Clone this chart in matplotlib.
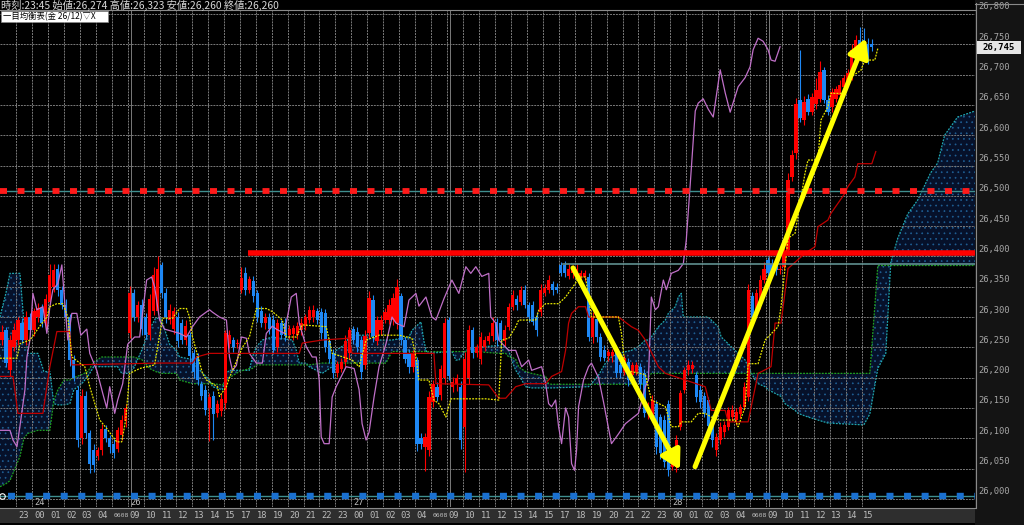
import numpy as np
import matplotlib
matplotlib.use("Agg")
import matplotlib.pyplot as plt
import matplotlib.transforms as mtransforms
from matplotlib.patches import Rectangle

plt.rcParams['hatch.linewidth'] = 0.5
plt.rcParams['hatch.color'] = '#1f5f94'

#%% 15分足 (始値, 終値)
opens = [26262, 26278, 26212, 26250, 26262, 26290, 26262, 26300, 26278, 26300,
         26315, 26290, 26325, 26350, 26380, 26345, 26320, 26300, 26229, 26180,
         26100, 26170, 26108, 26080, 26070, 26080, 26116, 26100, 26090, 26083,
         26105, 26128, 26273, 26339, 26300, 26320, 26300, 26270, 26310, 26310,
         26385, 26340, 26295, 26280, 26300, 26290, 26262, 26270, 26240, 26235,
         26190, 26180, 26150, 26170, 26141, 26145, 26158, 26255, 26262, 26255,
         26345, 26372, 26345, 26360, 26339, 26310, 26290, 26300, 26295, 26250,
         26290, 26290, 26270, 26272, 26270, 26278, 26285, 26295, 26300, 26310,
         26309, 26306, 26260, 26240, 26207, 26215, 26225, 26240, 26280, 26275,
         26262, 26220, 26273, 26328, 26260, 26278, 26295, 26295, 26295, 26290,
         26334, 26262, 26240, 26218, 26229, 26100, 26086, 26080, 26160, 26185,
         26171, 26200, 26295, 26184, 26190, 26185, 26119, 26200, 26278, 26240,
         26230, 26250, 26260, 26268, 26292, 26290, 26260, 26284, 26317, 26330,
         26325, 26345, 26320, 26320, 26300, 26309, 26340, 26345, 26355, 26350,
         26386, 26386, 26368, 26372, 26370, 26366, 26366, 26366, 26267, 26297,
         26267, 26245, 26235, 26235, 26245, 26220, 26210, 26225, 26205, 26210,
         26218, 26207, 26141, 26135, 26157, 26135, 26130, 26157, 26053, 26053,
         26119, 26179, 26212, 26214, 26204, 26180, 26170, 26163, 26130, 26080,
         26097, 26110, 26119, 26135, 26130, 26140, 26152, 26168, 26334, 26306,
         26320, 26361, 26394, 26388, 26386, 26377, 26383, 26410, 26531, 26570,
         26658, 26625, 26660, 26639, 26652, 26660, 26707, 26658, 26647, 26660,
         26666, 26680, 26690, 26696, 26738, 26757, 26757, 26751, 26750]
closes = [26276, 26224, 26262, 26278, 26295, 26262, 26300, 26278, 26310, 26315,
          26290, 26330, 26370, 26378, 26345, 26320, 26300, 26229, 26200, 26097,
          26170, 26108, 26058, 26055, 26080, 26116, 26100, 26085, 26075, 26113,
          26130, 26150, 26339, 26300, 26320, 26280, 26270, 26330, 26370, 26380,
          26340, 26300, 26312, 26310, 26260, 26262, 26285, 26235, 26210, 26196,
          26169, 26146, 26168, 26140, 26157, 26165, 26273, 26270, 26251, 26257,
          26365, 26345, 26362, 26335, 26300, 26290, 26300, 26280, 26245, 26290,
          26270, 26268, 26280, 26282, 26285, 26290, 26300, 26312, 26312, 26295,
          26273, 26251, 26230, 26207, 26222, 26225, 26260, 26278, 26262, 26250,
          26210, 26268, 26331, 26268, 26295, 26295, 26309, 26320, 26331, 26350,
          26262, 26230, 26218, 26240, 26091, 26090, 26102, 26168, 26190, 26168,
          26215, 26290, 26202, 26193, 26200, 26097, 26230, 26278, 26240, 26250,
          26267, 26262, 26268, 26290, 26262, 26262, 26279, 26317, 26336, 26320,
          26345, 26320, 26300, 26292, 26278, 26345, 26348, 26361, 26345, 26345,
          26372, 26372, 26380, 26380, 26380, 26372, 26372, 26267, 26300, 26267,
          26234, 26232, 26242, 26242, 26207, 26207, 26232, 26196, 26220, 26220,
          26190, 26141, 26150, 26163, 26086, 26075, 26060, 26047, 26070, 26097,
          26174, 26212, 26221, 26221, 26168, 26160, 26141, 26120, 26097, 26102,
          26119, 26122, 26146, 26146, 26144, 26152, 26185, 26345, 26300, 26340,
          26361, 26380, 26372, 26375, 26377, 26380, 26405, 26526, 26567, 26652,
          26628, 26655, 26639, 26663, 26674, 26705, 26658, 26639, 26672, 26677,
          26683, 26694, 26702, 26740, 26757, 26749, 26735, 26727, 26745]
wick_up = [10, 6, 8, 12, 5, 8, 10, 6, 5, 8, 6, 8, 18, 10, 8, 6, 10, 5, 8, 6,
           12, 8, 6, 10, 6, 8, 5, 6, 8, 6, 8, 6, 12, 8, 6, 10, 6, 8, 12, 20,
           6, 8, 10, 6, 8, 6, 10, 5, 8, 6, 5, 8, 6, 8, 6, 10, 6, 8, 5, 6,
           18, 10, 6, 8, 5, 8, 6, 6, 8, 6, 5, 8, 6, 5, 6, 8, 5, 6, 8, 5,
           6, 8, 6, 8, 6, 8, 10, 6, 5, 8, 6, 10, 12, 8, 6, 8, 6, 10, 8, 12,
           6, 5, 8, 6, 5, 8, 6, 10, 6, 8, 6, 8, 5, 8, 6, 10, 12, 8, 6, 5,
           8, 6, 8, 10, 6, 5, 8, 6, 8, 6, 6, 8, 5, 6, 8, 10, 6, 8, 5, 6,
           4, 6, 8, 6, 8, 5, 6, 6, 8, 5, 6, 8, 6, 5, 8, 6, 5, 8, 6, 5,
           6, 8, 10, 8, 6, 5, 8, 6, 10, 8, 6, 5, 8, 6, 5, 8, 6, 5, 8, 6,
           8, 6, 5, 8, 6, 5, 8, 10, 8, 6, 8, 10, 5, 8, 6, 5, 10, 12, 8, 10,
           82, 10, 8, 6, 20, 18, 6, 8, 6, 5, 8, 6, 8, 10, 8, 22, 20, 10, 8]
wick_dn = [8, 6, 10, 6, 8, 5, 8, 6, 10, 8, 6, 8, 6, 8, 10, 6, 8, 10, 6, 12,
           10, 8, 15, 10, 6, 8, 6, 10, 8, 6, 8, 10, 8, 6, 8, 10, 6, 8, 6, 5,
           8, 10, 6, 8, 10, 6, 8, 12, 10, 8, 6, 8, 55, 43, 6, 8, 10, 6, 8, 6,
           6, 8, 6, 10, 8, 6, 10, 8, 6, 8, 6, 8, 6, 10, 6, 8, 6, 5, 8, 6,
           10, 8, 6, 8, 6, 5, 8, 10, 6, 8, 12, 6, 8, 10, 6, 8, 5, 6, 8, 10,
           8, 6, 10, 8, 12, 8, 40, 10, 8, 6, 8, 10, 6, 8, 12, 15, 75, 10, 8, 6,
           8, 6, 5, 8, 10, 6, 8, 6, 5, 8, 6, 5, 8, 6, 10, 8, 5, 6, 8, 6,
           5, 6, 5, 8, 6, 5, 6, 6, 10, 8, 6, 5, 8, 10, 6, 8, 6, 10, 5, 6,
           8, 6, 10, 8, 12, 10, 8, 10, 6, 8, 6, 5, 8, 6, 8, 10, 6, 8, 12, 10,
           6, 8, 5, 6, 8, 6, 5, 6, 10, 8, 6, 5, 6, 5, 8, 6, 5, 8, 6, 10,
           6, 8, 6, 5, 8, 6, 5, 6, 8, 6, 5, 6, 8, 5, 6, 8, 12, 10, 6]

#%% 一目均衡表 (足番号, 価格)
tenkan_x = [-0.5, 3.75, 4.5, 7, 9.5, 11.25, 12, 13.75, 15.25, 16.5, 17.5, 20.75, 22, 24.5,
            26.25, 28.75, 30, 31, 32, 34.5, 38.25, 40.25, 42.75, 44.5, 46.25, 47, 47.75,
            50.25, 51.25, 54, 54.5, 56.25, 57, 60.25, 62, 63.75, 66.25, 67.75, 70.25, 71.25,
            73.75, 75.25, 81.25, 82.75, 87.75, 89.5, 91.25, 94.5, 99.5, 102.75, 103.75, 104.5,
            107, 108.25, 109.5, 111.25, 112.5, 121.25, 124.5, 125.25, 127, 128.75, 129.5,
            133.75, 134.5, 136.25, 139.5, 141.25, 143.75, 144.5, 146.25, 147.75, 154.5, 155.25,
            156.25, 161.25, 162.75, 166.25, 167.75, 169.5, 170.25, 172.75, 174.5, 176.25,
            177.75, 179.5, 183.75, 184.5, 186.25, 187, 189.5, 191.25, 194.5, 195.25, 197,
            198.75, 201.25, 202, 204.5, 205.25, 207, 207.75, 211.25, 212.75, 215.25, 216.25,
            218.75, 219.5]
tenkan_y = [26232, 26232, 26256, 26262, 26285, 26300, 26317, 26322, 26322, 26300, 26234, 26218,
            26185, 26130, 26116, 26094, 26094, 26130, 26207, 26215, 26221, 26298, 26298, 26314,
            26314, 26300, 26267, 26207, 26196, 26185, 26169, 26185, 26200, 26250, 26267, 26314,
            26314, 26309, 26295, 26267, 26267, 26287, 26284, 26240, 26229, 26218, 26262, 26270,
            26270, 26265, 26234, 26196, 26196, 26163, 26157, 26135, 26165, 26165, 26163, 26262,
            26265, 26284, 26295, 26295, 26311, 26322, 26322, 26333, 26356, 26366, 26366, 26300,
            26300, 26273, 26212, 26205, 26163, 26152, 26119, 26119, 26127, 26127, 26141, 26141,
            26135, 26130, 26130, 26119, 26152, 26223, 26223, 26262, 26284, 26317, 26430, 26438,
            26537, 26559, 26559, 26625, 26647, 26669, 26669, 26696, 26707, 26724, 26724, 26743]

kijun_x = [-0.5, 2.75, 4, 10.25, 12, 13.75, 17, 17.5, 39.5, 47.75, 48.75, 52, 74.5, 75.25,
           80.25, 87, 87.75, 108.25, 108.75, 122, 124.5, 126.25, 128.75, 131.25, 136.25,
           137.75, 140.25, 141.25, 142, 142.75, 144.5, 146.25, 147, 154.5, 157.75, 159.5,
           161.25, 164.5, 166.25, 171.25, 176.25, 177.75, 181.25, 182, 187, 189.5, 192.75,
           193.75, 195.25, 197, 201.25, 203.75, 204.5, 207, 207.75, 211.25, 212, 213.75,
           214.5, 218, 219]
kijun_y = [26202, 26202, 26141, 26141, 26218, 26276, 26276, 26221, 26224, 26224, 26234, 26240,
           26240, 26257, 26262, 26265, 26240, 26240, 26190, 26188, 26166, 26166, 26185, 26190,
           26190, 26202, 26210, 26245, 26290, 26306, 26317, 26317, 26300, 26300, 26284, 26278,
           26262, 26218, 26207, 26196, 26185, 26146, 26146, 26127, 26127, 26207, 26218, 26290,
           26290, 26380, 26405, 26416, 26449, 26460, 26471, 26504, 26515, 26531, 26553, 26553,
           26573]

chikou_x = [-0.5, 2, 2.75, 3.75, 4.5, 5.75, 6.25, 7, 7.75, 8.75, 10.25, 11.25, 12, 12.75, 14,
            15, 15.75, 16.5, 17.5, 18.75, 19.75, 21.25, 22, 23.75, 25.25, 26.25, 27, 28.25, 29,
            30.25, 31.5, 33.25, 34.5, 36.25, 37.5, 38.25, 39.5, 40.75, 44.5, 46.25, 47.75,
            49.5, 52, 52.75, 54.5, 56.25, 57, 57.75, 58.75, 60, 61.25, 62, 63.75, 65.25, 66.25,
            67.75, 68.75, 70.75, 72.5, 73.75, 74.5, 76.25, 77.75, 78.75, 79.5, 80, 80.75, 82,
            82.75, 83.75, 85.25, 86.25, 88.25, 89.5, 90.25, 91.25, 92, 93.25, 94.5, 96.25,
            97.75, 98.75, 100.75, 102, 103.75, 104.5, 106.25, 107.75, 108.75, 110.75, 112.75,
            114.5, 116.25, 117.5, 118.75, 120.25, 122, 122.5, 123.75, 124.5, 127, 128.75,
            130.25, 132, 132.75, 135.25, 136.25, 137, 137.75, 138.75, 139.5, 140.25, 141.25,
            142, 142.75, 143.5, 144, 144.5, 145.75, 147, 147.75, 149.5, 150.75, 152.75, 154.5,
            156.25, 159.5, 161.25, 162, 162.75, 163.75, 164.5, 165.75, 166.5, 167.75, 169.5,
            170.75, 171.5, 172.5, 173.75, 174.5, 175.75, 177, 178.25, 180, 181.25, 182.5,
            184.5, 186.25, 187.5, 188.25, 189.5, 190.75, 192, 192.75, 193.75, 195]
chikou_y = [26113, 26113, 26097, 26086, 26120, 26180, 26234, 26262, 26339, 26312, 26317, 26273,
            26317, 26345, 26355, 26386, 26322, 26262, 26306, 26306, 26270, 26280, 26240, 26212,
            26174, 26150, 26185, 26141, 26163, 26190, 26255, 26267, 26267, 26361, 26366, 26350,
            26295, 26280, 26273, 26267, 26284, 26300, 26312, 26308, 26300, 26295, 26234, 26212,
            26220, 26267, 26265, 26240, 26224, 26224, 26273, 26285, 26280, 26273, 26333, 26339,
            26290, 26251, 26234, 26234, 26196, 26102, 26091, 26091, 26168, 26185, 26205, 26218,
            26215, 26180, 26124, 26097, 26110, 26168, 26218, 26256, 26300, 26290, 26284, 26328,
            26339, 26318, 26333, 26300, 26295, 26330, 26361, 26339, 26383, 26372, 26383, 26367,
            26372, 26300, 26290, 26262, 26245, 26245, 26218, 26229, 26212, 26218, 26190, 26157,
            26152, 26163, 26119, 26091, 26150, 26135, 26058, 26047, 26080, 26152, 26196, 26218,
            26224, 26200, 26160, 26091, 26107, 26124, 26141, 26185, 26196, 26333, 26312, 26317,
            26361, 26345, 26372, 26377, 26388, 26427, 26520, 26640, 26653, 26660, 26643, 26630,
            26708, 26670, 26638, 26680, 26695, 26713, 26741, 26760, 26755, 26741, 26724, 26722,
            26746]

cloud_x = [-0.5, 1, 2, 4.5, 5.5, 6.5, 9, 10.5, 12, 13, 14, 15.5, 17, 18, 20, 21.5, 23, 25,
           29, 30, 31.5, 33, 35, 37, 38.5, 40, 40.25, 42, 43.75, 44.5, 47.75, 48.75, 52, 52.75,
           55.25, 56.25, 57, 59.5, 62, 62.75, 63.75, 65.25, 67.75, 72.75, 73.75, 74.5, 76.25,
           77, 80.25, 82.75, 83.75, 86.25, 87, 92, 94.5, 96.25, 97.75, 102, 102.75, 105,
           105.75, 106.5, 112.75, 113.75, 114.5, 116.25, 118.75, 124.5, 126.25, 127, 127.75,
           128.75, 129.5, 130.25, 131.25, 132.75, 136.25, 137, 137.75, 147, 147.75, 149.5,
           151.25, 152.75, 154.5, 157.75, 159.5, 161.25, 162, 162.75, 164.5, 166.25, 167,
           168.75, 169.5, 170.25, 170.75, 177, 177.75, 179.5, 180.25, 182, 182.75, 186.25, 187,
           188.75, 189.5, 191.25, 192, 195.25, 196.25, 198.75, 199.5, 202, 207, 216, 217.5,
           219.5, 221.5, 222.75, 224.5, 227, 229.5, 232.75, 234.5, 236.25, 239.5, 243.9]
senkou_a = [26300, 26340, 26372, 26372, 26290, 26240, 26240, 26210, 26210, 26157, 26155, 26155,
            26157, 26180, 26190, 26202, 26218, 26218, 26218, 26207, 26207, 26215, 26245, 26280,
            26298, 26298, 26290, 26255, 26245, 26234, 26230, 26218, 26196, 26185, 26180, 26207,
            26212, 26212, 26212, 26234, 26251, 26262, 26267, 26262, 26245, 26224, 26224, 26218,
            26207, 26218, 26245, 26256, 26270, 26270, 26262, 26262, 26262, 26267, 26278, 26292,
            26260, 26240, 26243, 26229, 26229, 26245, 26250, 26253, 26250, 26245, 26229, 26212,
            26205, 26196, 26185, 26183, 26183, 26183, 26183, 26185, 26190, 26204, 26224, 26234,
            26240, 26245, 26251, 26262, 26262, 26267, 26284, 26295, 26306, 26317, 26333, 26339,
            26300, 26300, 26295, 26284, 26267, 26256, 26251, 26229, 26218, 26196, 26190, 26185,
            26180, 26169, 26157, 26146, 26141, 26135, 26125, 26122, 26140, 26215, 26240, 26390,
            26430, 26470, 26493, 26538, 26554, 26600, 26630, 26640]
senkou_b = [26020, 26025, 26030, 26070, 26100, 26108, 26113, 26113, 26113, 26163, 26180, 26196,
            26196, 26200, 26205, 26210, 26226, 26234, 26234, 26234, 26234, 26234, 26230, 26215,
            26210, 26207, 26207, 26207, 26207, 26196, 26190, 26190, 26190, 26190, 26188, 26195,
            26200, 26210, 26215, 26215, 26221, 26221, 26221, 26221, 26221, 26221, 26221, 26221,
            26224, 26224, 26224, 26224, 26224, 26224, 26224, 26224, 26243, 26243, 26243, 26243,
            26243, 26243, 26243, 26243, 26243, 26243, 26243, 26240, 26240, 26234, 26234, 26230,
            26218, 26214, 26210, 26207, 26202, 26190, 26189, 26189, 26189, 26189, 26189, 26189,
            26189, 26189, 26189, 26189, 26200, 26207, 26207, 26207, 26207, 26207, 26207, 26207,
            26207, 26207, 26207, 26207, 26207, 26207, 26207, 26207, 26207, 26207, 26207, 26207,
            26207, 26207, 26207, 26207, 26207, 26207, 26207, 26207, 26207, 26385, 26385, 26385,
            26385, 26385, 26385, 26385, 26385, 26385, 26385, 26385]

#%% 水平線とトレンド矢印
line_red_dot = 26508
line_blue_dot = 26005
line_red = 26405
line_red_start = 61.7
line_teal = 26387
line_teal_start = 140.6
arrow_down = [(143.1, 26381), (169.9, 26048)]
arrow_up = [(173.7, 26053), (216.5, 26760)]

hour_labels = ["23", "00", "01", "02", "03", "04", "0608", "09", "10", "11", "12", "13", "14",
               "15", "17", "18", "19", "20", "21", "22", "23", "00", "01", "02", "03", "04",
               "0608", "09", "10", "11", "12", "13", "14", "15", "17", "18", "19", "20", "21",
               "22", "23", "00", "01", "02", "03", "04", "0608", "09", "10", "11", "12", "13",
               "14", "15"]
day_labels = {1: "24", 7: "26", 21: "27", 41: "28"}
price_ticks = list(range(26000, 26801, 50))
last_price = "26,745"

#%%
W, H = 1024, 525
fig = plt.figure(figsize=(W / 100, H / 100), dpi=100, facecolor='black')
ax = fig.add_axes([0, 18 / H, 975 / W, 497 / H])
ax.set_facecolor('black')
ax.set_xlim(-0.5, 243.86)
ax.set_ylim(25986.5, 26806.6)
ax.set_xticks([])
ax.set_yticks([])
for s in ax.spines.values():
    s.set_visible(False)

# 雲
ax.fill_between(cloud_x, senkou_a, senkou_b, facecolor='#06112a', edgecolor='#1f5f94',
                hatch='...', linewidth=0, zorder=0.5)
ax.plot(cloud_x, senkou_a, color='#20a8b0', lw=0.9, ls=(0, (1.5, 1)), zorder=0.6)
ax.plot(cloud_x, senkou_b, color='#20a020', lw=0.9, ls=(0, (1.5, 1)), zorder=0.6)

# グリッド
for p in price_ticks:
    ax.axhline(p, color='#7a7a7a', lw=0.7, ls=(0, (2, 1)), zorder=1)
grid_pos = [3.63 + 3.997 * k for k in range(len(hour_labels))]
for gx in grid_pos:
    ax.axvline(gx, color='#7a7a7a', lw=0.7, ls=(0, (2, 1)), zorder=1)
for k in (7, 27, 47):
    ax.axvline(grid_pos[k] + 0.75, color='#7a7a7a', lw=0.7, zorder=1)

# ローソク足
o = np.array(opens)
c = np.array(closes)
xs = np.arange(len(c))
up = c >= o
cols = np.where(up, '#ff0000', '#1e88f5')
hi = np.maximum(o, c) + np.array(wick_up)
lo = np.minimum(o, c) - np.array(wick_dn)
ax.vlines(xs, lo, hi, colors=cols, lw=0.8, zorder=2)
body = np.where(np.abs(c - o) < 2, 2, c - o)
ax.bar(xs, body, bottom=o, width=0.8, color=cols, linewidth=0, zorder=2.1)

# 一目の線
ax.plot(chikou_x, chikou_y, color='#c070c8', lw=0.9, zorder=3)
ax.plot(kijun_x, kijun_y, color='#c00000', lw=0.9, zorder=3)
ax.plot(tenkan_x, tenkan_y, color='#e8e800', lw=0.9, ls=(0, (1.5, 1)), zorder=3)

# 水平線
ax.axhline(line_red_dot, color='#3f8f8f', lw=1.0, zorder=3.5)
ax.axhline(line_red_dot, color='#ff1a1a', lw=4.2, ls=(0, (1.2, 1.8)), zorder=3.6)
ax.axhline(line_blue_dot, color='#3f8f8f', lw=1.0, zorder=3.5)
ax.axhline(line_blue_dot, xmin=0.008, color='#1a70d0', lw=4.6, ls=(0, (1.1, 1.65)), zorder=3.6)
ax.plot([-0.1], [line_blue_dot], marker='o', ms=4, mfc='none', mec='white', mew=0.8,
        zorder=3.7)
ax.plot([line_teal_start, 243.9], [line_teal] * 2, color='#5f9090', lw=1.2, zorder=3.5)
ax.plot([line_red_start, 243.9], [line_red] * 2, color='#ff0000', lw=4, zorder=3.7,
        solid_capstyle='butt')

# 矢印
for a in (arrow_down, arrow_up):
    ax.annotate('', xy=a[1], xytext=a[0], zorder=5,
                arrowprops=dict(arrowstyle='-|>,head_length=0.8,head_width=0.45',
                                color='#ffff00', lw=3.6, shrinkA=0, shrinkB=0,
                                mutation_scale=14))

# 下の時間軸
fig.patches.append(Rectangle((0, 2 / H), 975 / W, 15 / H, transform=fig.transFigure,
                             facecolor='#2e2e2e', edgecolor='none', zorder=-5))
fig.add_artist(plt.Line2D([0, 975 / W], [17.5 / H, 17.5 / H], color='#8a8a8a', lw=0.8))
tb = mtransforms.blended_transform_factory(ax.transData, fig.transFigure)
mono = 'DejaVu Sans Mono'
for k, lab in enumerate(hour_labels):
    gx = grid_pos[k]
    if len(lab) == 4:
        ax.text(gx + 0.3, 9.5 / H, lab, transform=tb, color='#bdbdbd', fontsize=4.6,
                family=mono, va='center', ha='left')
    else:
        ax.text(gx + 0.4, 9.5 / H, lab, transform=tb, color='#bdbdbd', fontsize=6.3,
                family=mono, va='center', ha='left')
tb2 = mtransforms.blended_transform_factory(ax.transData, ax.transAxes)
for k, lab in day_labels.items():
    ax.text(grid_pos[k] + 0.5, 0.009, lab, transform=tb2, color='#bdbdbd', fontsize=6.3,
            family=mono, va='center', ha='left')

# 右の価格軸
fig.patches.append(Rectangle((975 / W, 0), 49 / W, 1, transform=fig.transFigure,
                             facecolor='#141414', edgecolor='none', zorder=-5))
fig.add_artist(plt.Line2D([975.5 / W, 975.5 / W], [17 / H, 522 / H], color='#8a8a8a', lw=0.8))
fig.add_artist(plt.Line2D([975 / W, 1], [521.5 / H, 521.5 / H], color='#8a8a8a', lw=0.8))
tr = mtransforms.blended_transform_factory(ax.transAxes, ax.transData)
tr = mtransforms.offset_copy(tr, fig=fig, x=0, y=7, units='dots')
for p in price_ticks:
    ax.text(1.003, p, f"{p:,}", transform=tr, color='#a8a8a8', fontsize=6.3, family=mono,
            va='center', ha='left', clip_on=False)
fig.patches.append(Rectangle((977 / W, (H - 54) / H), 44 / W, 13 / H,
                             transform=fig.transFigure, facecolor='#e6e6e6',
                             edgecolor='none', zorder=5))
fig.text(999 / W, (H - 47.5) / H, last_price, color='black', fontsize=6.5, family=mono,
         weight='bold', ha='center', va='center', zorder=6)

# ヘッダー
jp = ['Noto Sans CJK JP', 'DejaVu Sans']
fig.text(1 / W, (H - 5) / H, "時刻:23:45 始値:26,274 高値:26,323 安値:26,260 終値:26,260",
         color='#d8d8d8', fontsize=7.4, family=jp, va='center', ha='left')
fig.add_artist(plt.Line2D([0, 975 / W], [(H - 10) / H] * 2, color='#8a8a8a', lw=0.8))
fig.patches.append(Rectangle((1 / W, (H - 22) / H), 107 / W, 11 / H,
                             transform=fig.transFigure, facecolor='white',
                             edgecolor='#888888', lw=0.5, zorder=5))
fig.text(3 / W, (H - 16.5) / H, "一目均衡表(金 26/12)▽X", color='black', fontsize=6,
         family=jp, va='center', ha='left', zorder=6)

fig.savefig("out.png", dpi=100, facecolor='black')
